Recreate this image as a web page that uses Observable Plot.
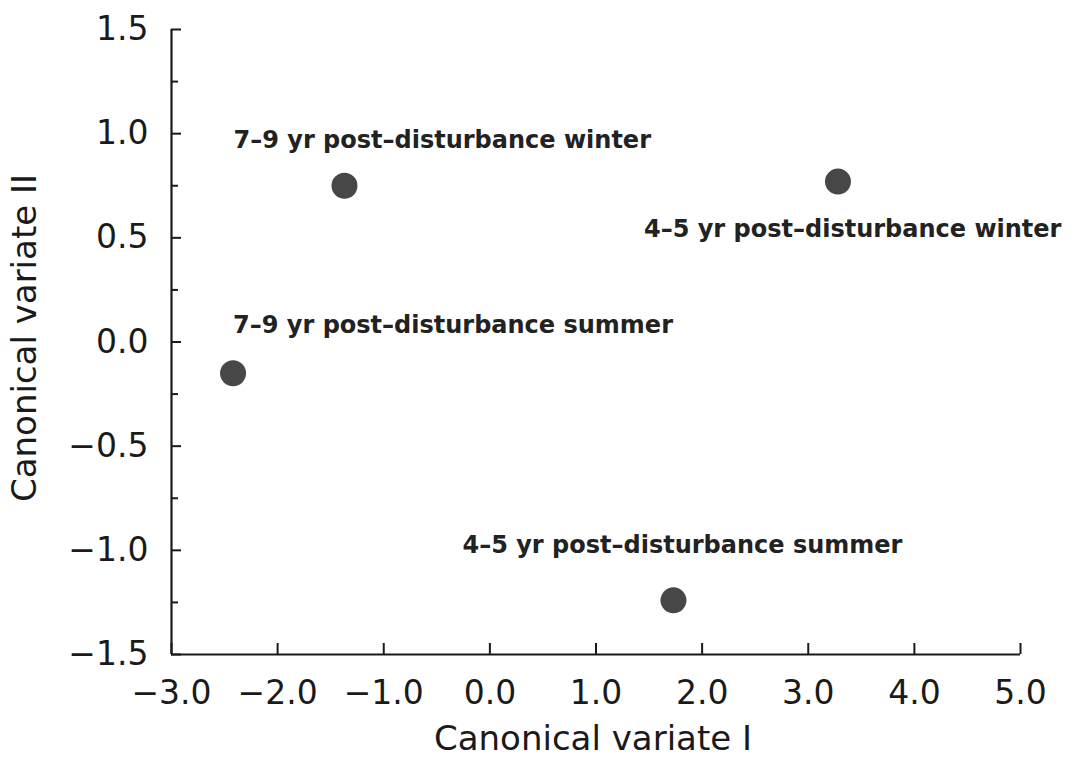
<!DOCTYPE html>
<html>
<head>
<meta charset="utf-8">
<script src="https://cdn.jsdelivr.net/npm/d3@7"></script>
<script src="https://cdn.jsdelivr.net/npm/@observablehq/plot@0.6"></script>
<style>
  html, body { margin: 0; padding: 0; background: #fff; }
  #chart { width: 1072px; height: 762px; }
</style>
</head>
<body>
<div id="chart"></div>
<script>
// ---- data ----
const groups = [
  "7–9 yr post–disturbance summer",
  "7–9 yr post–disturbance winter",
  "4–5 yr post–disturbance winter",
  "4–5 yr post–disturbance summer"
];
const cv1 = [-2.42, -1.37, 3.28, 1.73];
const cv2 = [-0.15, 0.75, 0.77, -1.24];
const xTicks = [-3, -2, -1, 0, 1, 2, 3, 4, 5];
const yMajor = [-1.5, -1, -0.5, 0, 0.5, 1, 1.5];
const yMinor = [-1.25, -0.75, -0.25, 0.25, 0.75, 1.25];
const xTitle = "Canonical variate I";
const yTitle = "Canonical variate II";

// ---- styles ----
const labelOffsets = [
  {dx: 0, dy: -48},
  {dx: -111, dy: -45},
  {dx: -194, dy: 48},
  {dx: -211, dy: -55}
];
const ink = "#1a1a1a";
const fmt = d3.format(".1f");
const idx = groups.map((_, i) => i);

const chart = Plot.plot({
  width: 1072,
  height: 762,
  marginLeft: 171,
  marginRight: 52,
  marginTop: 29,
  marginBottom: 108,
  style: {fontFamily: "DejaVu Sans", background: "#fff", color: ink},
  x: {domain: [-3, 5]},
  y: {domain: [-1.5, 1.5]},
  marks: [
    // axis lines
    Plot.ruleX([-3], {stroke: ink, strokeWidth: 2.2}),
    Plot.ruleY([-1.5], {stroke: ink, strokeWidth: 2.2}),
    // inward ticks
    Plot.axisY(yMajor, {tickSize: 10, dx: 10, fill: "none", label: null, stroke: ink, strokeWidth: 2}),
    Plot.axisY(yMinor, {tickSize: 7, dx: 7, fill: "none", label: null, stroke: ink, strokeWidth: 2}),
    Plot.axisX(xTicks, {tickSize: 11, dy: -11, fill: "none", label: null, stroke: ink, strokeWidth: 2}),
    // tick labels
    Plot.axisY(yMajor, {tickSize: 0, tickPadding: 23, tickFormat: fmt, fontSize: 33, label: null, fill: ink}),
    Plot.axisX(xTicks, {tickSize: 0, tickPadding: 26, tickFormat: fmt, fontSize: 33, label: null, fill: ink}),
    // axis titles
    Plot.text([xTitle], {text: d => d, frameAnchor: "bottom", textAnchor: "middle", lineAnchor: "middle", dx: -3, dy: 85, fontSize: 34, fill: ink}),
    Plot.text([yTitle], {text: d => d, frameAnchor: "left", textAnchor: "middle", lineAnchor: "middle", rotate: -90, dx: -146, dy: -4, fontSize: 34, fill: ink}),
    // points
    Plot.dot(idx, {x: i => cv1[i], y: i => cv2[i], r: 13, fill: "#474747", stroke: "none"}),
    // labels
    ...idx.map(i => Plot.text([i], {
      x: j => cv1[j], y: j => cv2[j], text: j => groups[j],
      textAnchor: "start", dx: labelOffsets[i].dx, dy: labelOffsets[i].dy,
      fontSize: 24, fontWeight: "bold", fill: "#222"
    }))
  ]
});
document.getElementById("chart").appendChild(chart);
</script>
</body>
</html>
